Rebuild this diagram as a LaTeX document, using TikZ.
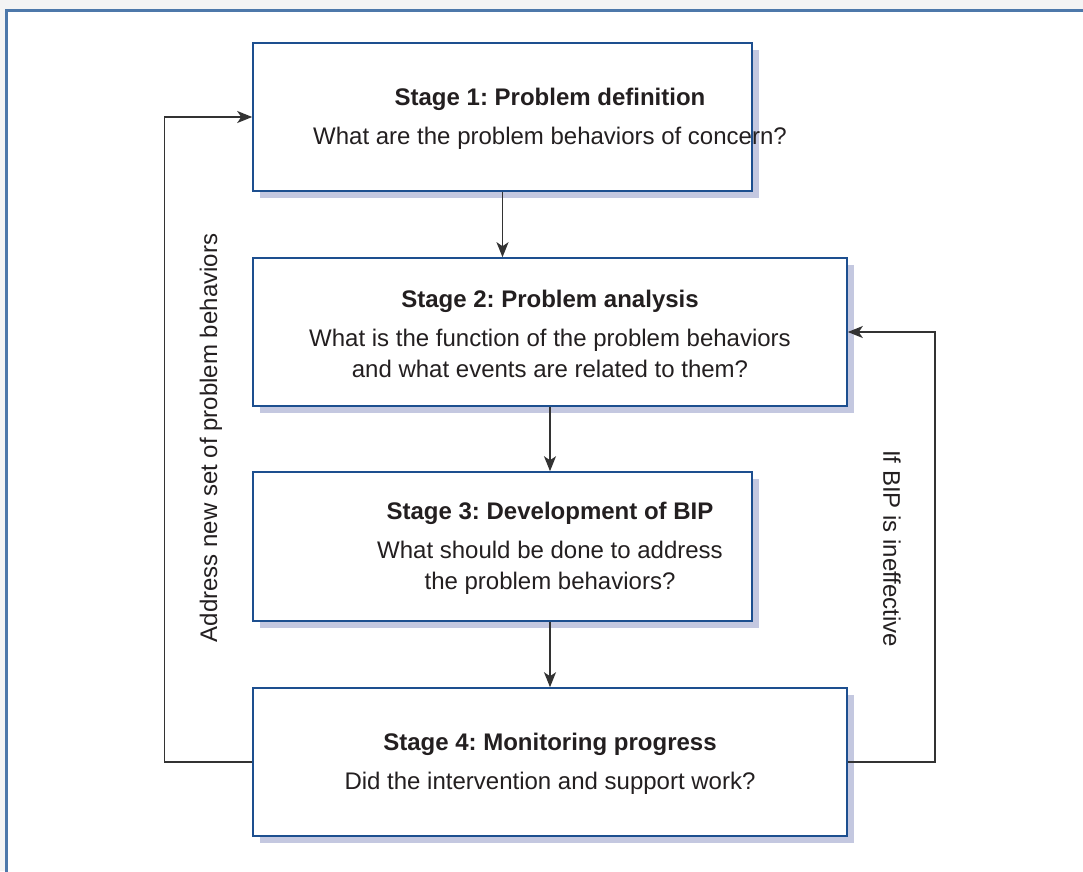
\documentclass[tikz,border=0pt]{standalone}
\usepackage{fontspec}
\setmainfont{Liberation Sans}
\usetikzlibrary{arrows.meta,shadows}
\definecolor{boxblue}{HTML}{1D4F8F}
\definecolor{frameblue}{HTML}{4D78AA}
\definecolor{shadowc}{HTML}{C4C8E0}
\definecolor{linec}{HTML}{333333}
\definecolor{textc}{HTML}{231F20}
\definecolor{outgray}{HTML}{F4F4F4}
\frenchspacing
\begin{document}
\begin{tikzpicture}[x=1pt,y=-1pt,
  stagebox/.style={draw=boxblue, line width=1.6pt, fill=white, inner sep=0pt,
    general shadow={fill=shadowc, shadow xshift=6.5pt, shadow yshift=-6.5pt}},
  stagetext/.style={align=center, text=textc, font=\fontsize{24}{31}\selectfont, inner sep=0pt},
  looplabel/.style={text=textc, font=\fontsize{24}{29}\selectfont, inner sep=0pt},
  conn/.style={draw=linec, line width=1.4pt, -{Stealth[length=15pt,width=12pt,inset=4pt]}},
]
\useasboundingbox (0,0) rectangle (1083,871);
\fill[outgray] (0,0) rectangle (1083,871);
\fill[white] (6.5,10.5) rectangle (1083,871);
\draw[frameblue, line width=2.2pt] (6.5,875) -- (6.5,10.5) -- (1087,10.5);

\node[stagebox, minimum width=499pt, minimum height=148pt] (b1) at (502.5,117) {};
\node[stagebox, minimum width=594pt, minimum height=148pt] (b2) at (550,332) {};
\node[stagebox, minimum width=499pt, minimum height=149pt] (b3) at (502.5,546.5) {};
\node[stagebox, minimum width=594pt, minimum height=148pt] (b4) at (550,762) {};

\node[stagetext] (t1) at (550,119) {\textbf{Stage 1: Problem definition}\\[8pt]What are the problem behaviors of concern?};
\node[stagetext] (t2) at (550,334) {\textbf{Stage 2: Problem analysis}\\[8pt]What is the function of the problem behaviors\\and what events are related to them?};
\node[stagetext] (t3) at (550,548.5) {\textbf{Stage 3: Development of BIP}\\[8pt]What should be done to address\\the problem behaviors?};
\node[stagetext] (t4) at (550,764) {\textbf{Stage 4: Monitoring progress}\\[8pt]Did the intervention and support work?};

\draw[conn] (b1.south) -- (b1.south |- b2.north);
\draw[conn] (b2.south) -- (b2.south |- b3.north);
\draw[conn] (b4.north |- b3.south) -- (b4.north);

\coordinate (lc) at (164.5,0);
\coordinate (rc) at (935,0);
\draw[conn] (b4.west) -- (b4.west -| lc) |- (b1.west);
\draw[conn] (b4.east) -- (b4.east -| rc) |- (b2.east);

\node[looplabel, rotate=90] (la) at (211,438) {Address new set of problem behaviors};
\node[looplabel, rotate=-90] (lb) at (892,548.5) {If BIP is ineffective};
\end{tikzpicture}
\end{document}
